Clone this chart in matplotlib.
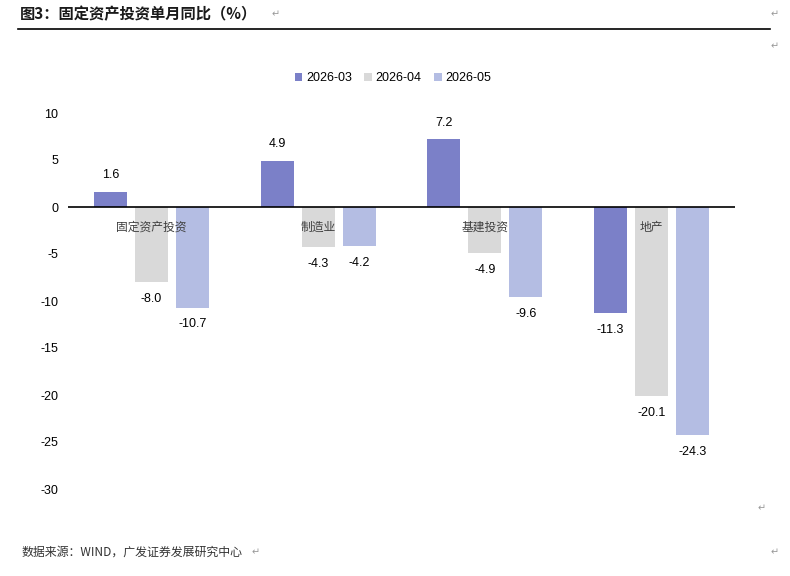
import numpy as np
import matplotlib.pyplot as plt
import matplotlib as mpl

mpl.rcParams.update({
    "font.family": ["Liberation Sans", "Noto Sans CJK SC", "DejaVu Sans"],
    "axes.unicode_minus": False,
})

categories = ["固定资产投资", "制造业", "基建投资", "地产"]
series = ["2026-03", "2026-04", "2026-05"]
v_mar = [1.6, 4.9, 7.2, -11.3]
v_apr = [-8.0, -4.3, -4.9, -20.1]
v_may = [-10.7, -4.2, -9.6, -24.3]
yticks = [10, 5, 0, -5, -10, -15, -20, -25, -30]

colors = ["#7B80C8", "#D9D9D9", "#B4BDE3"]
cjk = ["Noto Sans CJK SC", "DejaVu Sans"]

fig = plt.figure(figsize=(7.9, 5.76), dpi=100)
ax = fig.add_axes([68 / 790, 1 - 489 / 576, 667 / 790, 376 / 576])

x = np.arange(len(categories))
w = 0.198
step = 0.246
for k, (vals, c) in enumerate(zip([v_mar, v_apr, v_may], colors)):
    xs = x + (k - 1) * step
    ax.bar(xs, vals, width=w, color=c, label=series[k], zorder=2)
    for xi, v in zip(xs, vals):
        off = 12 if v >= 0 else -12
        ax.annotate(f"{v:.1f}", (xi, v), xytext=(0, off), textcoords="offset points",
                    ha="center", va="center", fontsize=9, color="#000000")

for xi, name in zip(x, categories):
    ax.annotate(name, (xi, 0), xytext=(0, -14.5), textcoords="offset points",
                ha="center", va="center", fontsize=8.5, color="#404040",
                family=cjk, zorder=5)

ax.axhline(0, color="black", lw=1.2, zorder=3)
ax.set_xlim(-0.5, 3.5)
ax.set_ylim(-30, 10)
ax.set_yticks(yticks)
ax.set_yticklabels([str(t) for t in yticks], fontsize=9)
ax.tick_params(axis="y", length=0, pad=7)
ax.set_xticks([])
for s in ax.spines.values():
    s.set_visible(False)

leg = fig.legend(loc="center", bbox_to_anchor=(393 / 790, 1 - 78 / 576), ncol=3,
                 frameon=False, fontsize=9, handlelength=0.6, handleheight=0.6,
                 handletextpad=0.3, columnspacing=1.0)

# page text
fig.text(20 / 790, 1 - 14 / 576, "图3：固定资产投资单月同比（%）", fontsize=11,
         fontweight="bold", family=cjk, va="center", ha="left", color="#1a1a1a")
fig.add_artist(plt.Line2D([18 / 790, 770 / 790], [1 - 29 / 576, 1 - 29 / 576],
                          color="black", lw=1.2))
fig.text(22 / 790, 1 - 552 / 576, "数据来源：WIND，广发证券发展研究中心", fontsize=8.6,
         family=cjk, va="center", ha="left", color="#333333")
for px, py in [(276, 14), (775, 14), (775, 46), (762, 508), (775, 552), (256, 552)]:
    fig.text(px / 790, 1 - py / 576, "↵", fontsize=7, family=["DejaVu Sans"],
             va="center", ha="center", color="#999999")

fig.savefig("out.png", dpi=100)
